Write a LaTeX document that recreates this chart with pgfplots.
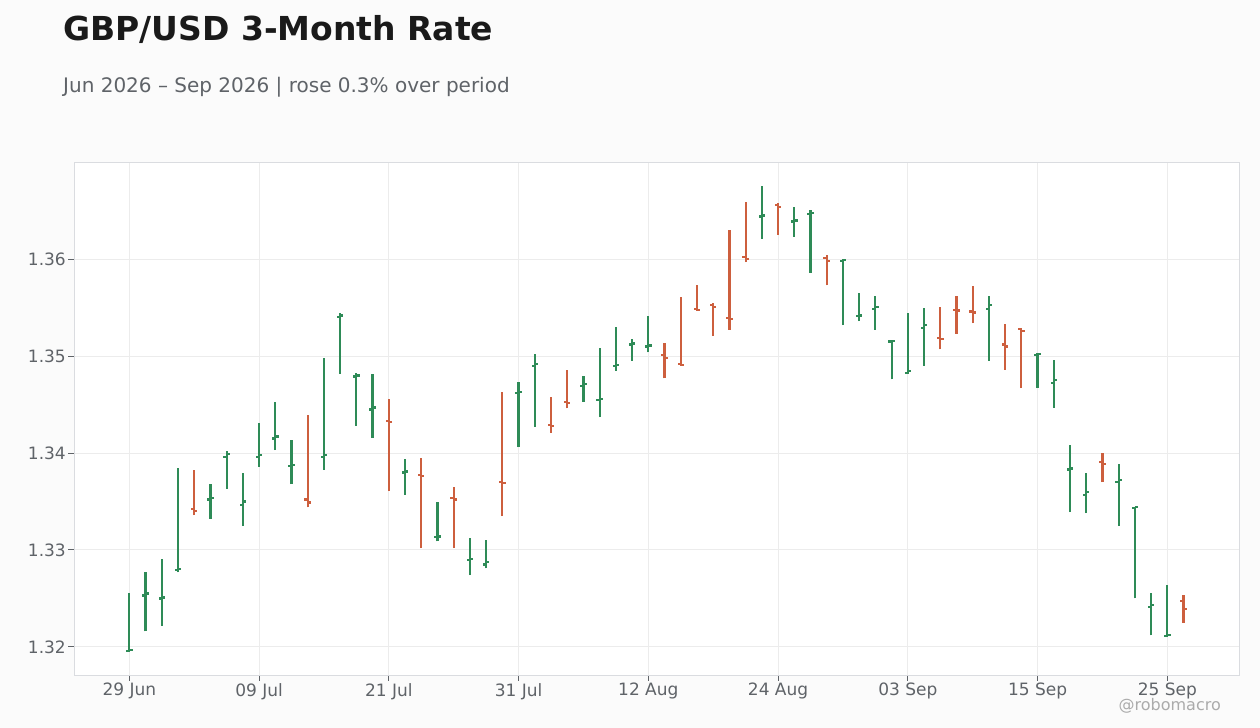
\documentclass[border=0pt]{standalone}
\usepackage{pgfplots}
\pgfplotsset{compat=1.18}
\usepackage{pgfplotstable}
\usepackage{fontspec}
\setmainfont{DejaVu Sans}
\definecolor{upc}{HTML}{2E8B57}
\definecolor{dnc}{HTML}{CD5F3E}
\definecolor{lab}{HTML}{5F6368}
\definecolor{gridc}{HTML}{ECECEC}
\definecolor{bordc}{HTML}{DADCE0}
\definecolor{bgc}{HTML}{FBFBFB}
\definecolor{titc}{HTML}{1A1A1A}

% i open high low close
\pgfplotstableread{
i o h l c
0 1.3196 1.3256 1.3195 1.3197
1 1.3253 1.3277 1.3216 1.3255
2 1.3250 1.3291 1.3222 1.3251
3 1.3279 1.3385 1.3277 1.3280
5 1.3352 1.3368 1.3332 1.3354
6 1.3396 1.3402 1.3363 1.3399
7 1.3346 1.3379 1.3325 1.3350
8 1.3396 1.3431 1.3386 1.3398
9 1.3415 1.3453 1.3403 1.3417
10 1.3387 1.3413 1.3368 1.3388
12 1.3396 1.3498 1.3383 1.3398
13 1.3540 1.3545 1.3482 1.3542
14 1.3479 1.3483 1.3428 1.3480
15 1.3445 1.3482 1.3416 1.3447
17 1.3380 1.3394 1.3357 1.3381
19 1.3313 1.3350 1.3309 1.3314
21 1.3290 1.3312 1.3274 1.3291
22 1.3285 1.3310 1.3281 1.3288
24 1.3462 1.3473 1.3406 1.3463
25 1.3490 1.3502 1.3427 1.3492
28 1.3469 1.3480 1.3453 1.3471
29 1.3455 1.3508 1.3437 1.3456
30 1.3490 1.3530 1.3485 1.3491
31 1.3512 1.3518 1.3495 1.3513
32 1.3510 1.3541 1.3504 1.3511
39 1.3644 1.3676 1.3621 1.3645
41 1.3639 1.3654 1.3623 1.3640
42 1.3647 1.3651 1.3586 1.3648
44 1.3598 1.3600 1.3532 1.3599
45 1.3541 1.3565 1.3536 1.3542
46 1.3549 1.3562 1.3527 1.3551
47 1.3515 1.3517 1.3476 1.3516
48 1.3483 1.3544 1.3482 1.3485
49 1.3529 1.3550 1.3490 1.3532
53 1.3549 1.3562 1.3495 1.3553
56 1.3501 1.3503 1.3467 1.3502
57 1.3472 1.3496 1.3447 1.3475
58 1.3383 1.3408 1.3339 1.3384
59 1.3357 1.3379 1.3338 1.3360
61 1.3370 1.3389 1.3325 1.3372
62 1.3343 1.3344 1.3250 1.3344
63 1.3241 1.3256 1.3212 1.3243
64 1.3211 1.3264 1.3210 1.3212
}\up

\pgfplotstableread{
i o h l c
4 1.3342 1.3383 1.3336 1.3340
11 1.3352 1.3439 1.3344 1.3349
16 1.3433 1.3456 1.3361 1.3432
18 1.3377 1.3395 1.3302 1.3376
20 1.3354 1.3365 1.3302 1.3352
23 1.3370 1.3463 1.3335 1.3369
26 1.3429 1.3458 1.3421 1.3428
27 1.3453 1.3486 1.3446 1.3452
33 1.3501 1.3514 1.3477 1.3498
34 1.3492 1.3561 1.3490 1.3491
35 1.3549 1.3573 1.3547 1.3548
36 1.3553 1.3555 1.3521 1.3551
37 1.3539 1.3630 1.3527 1.3538
38 1.3602 1.3659 1.3597 1.3600
40 1.3656 1.3658 1.3625 1.3654
43 1.3601 1.3604 1.3573 1.3598
50 1.3519 1.3551 1.3507 1.3518
51 1.3548 1.3562 1.3523 1.3547
52 1.3546 1.3572 1.3534 1.3545
54 1.3512 1.3533 1.3486 1.3510
55 1.3528 1.3529 1.3467 1.3526
60 1.3391 1.3400 1.3370 1.3389
65 1.3247 1.3254 1.3225 1.3239
}\down

\begin{document}
\begin{tikzpicture}
\fill[bgc] (0,0) rectangle (1260bp,728bp);
\path[use as bounding box] (0,0) rectangle (1260bp,728bp);
\node[anchor=base west, inner sep=0, text=titc, font=\fontsize{33bp}{40bp}\selectfont\bfseries] at (63bp,687bp) {GBP/USD 3-Month Rate};
\node[anchor=base west, inner sep=0, text=lab, font=\fontsize{20bp}{24bp}\selectfont] at (63bp,635bp) {Jun 2026 – Sep 2026 | rose 0.3\% over period};
\begin{axis}[
  at={(74bp,53bp)}, anchor=south west,
  scale only axis, width=1165.3bp, height=512.7bp,
  xmin=-3.41, xmax=68.44, ymin=1.3171, ymax=1.3700,
  axis background/.style={fill=white},
  axis line style={draw=bordc, line width=1bp},
  xtick={0,8,16,24,32,40,48,56,64},
  xticklabels={29 Jun,09 Jul,21 Jul,31 Jul,12 Aug,24 Aug,03 Sep,15 Sep,25 Sep},
  ytick={1.32,1.33,1.34,1.35,1.36},
  /pgf/number format/fixed, /pgf/number format/fixed zerofill,
  /pgf/number format/precision=2, /pgf/number format/assume math mode=true,
  tick align=outside, xtick pos=bottom, ytick pos=left,
  major tick length=6bp,
  every tick/.style={draw=lab, line width=1bp},
  tick label style={text=lab, font=\fontsize{17bp}{20bp}\selectfont},
  yticklabel style={inner sep=0bp, xshift=-2bp},
  xticklabel style={inner sep=0bp, yshift=-2bp},
  grid=major, major grid style={draw=gridc, line width=1bp},
  clip=false,
  ohlc/.style={draw=none, mark=none, forget plot},
]
% up bars
\addplot[ohlc, error bars/.cd, y dir=plus, y explicit, error mark=none,
  error bar style={draw=upc, solid, line width=2.2bp}] table[x=i, y=l, y error expr=\thisrow{h}-\thisrow{l}] {\up};
\addplot[ohlc, error bars/.cd, x dir=minus, x fixed=0.2, error mark=none,
  error bar style={draw=upc, solid, line width=2.2bp}] table[x=i, y=o] {\up};
\addplot[ohlc, error bars/.cd, x dir=plus, x fixed=0.2, error mark=none,
  error bar style={draw=upc, solid, line width=2.2bp}] table[x=i, y=c] {\up};
% down bars
\addplot[ohlc, error bars/.cd, y dir=plus, y explicit, error mark=none,
  error bar style={draw=dnc, solid, line width=2.2bp}] table[x=i, y=l, y error expr=\thisrow{h}-\thisrow{l}] {\down};
\addplot[ohlc, error bars/.cd, x dir=minus, x fixed=0.2, error mark=none,
  error bar style={draw=dnc, solid, line width=2.2bp}] table[x=i, y=o] {\down};
\addplot[ohlc, error bars/.cd, x dir=plus, x fixed=0.2, error mark=none,
  error bar style={draw=dnc, solid, line width=2.2bp}] table[x=i, y=c] {\down};
\end{axis}
\node[anchor=base east, inner sep=0, text=black!33, font=\fontsize{16bp}{19bp}\selectfont] at (1221bp,18bp) {@robomacro};
\end{tikzpicture}
\end{document}
